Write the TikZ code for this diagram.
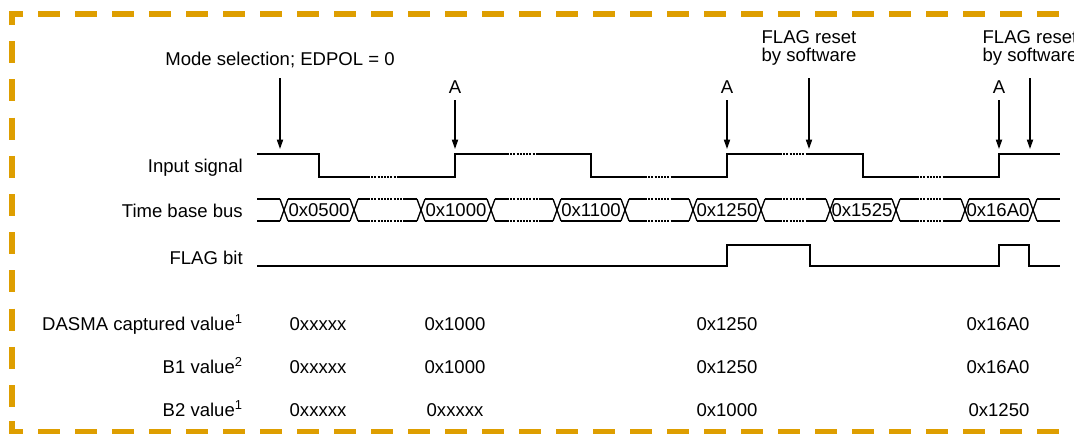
\documentclass[tikz,border=0pt]{standalone}
\usepackage{fontspec}
\setmainfont{Liberation Sans}
\usetikzlibrary{arrows.meta}
\definecolor{bordc}{RGB}{222,158,0}
\begin{document}
\begin{tikzpicture}[x=0.75pt,y=-0.75pt,
  txt/.style={font=\fontsize{13.9}{13.5}\selectfont, inner sep=0pt, text=black},
  sig/.style={line width=1.7pt, line join=miter, line cap=butt},
  dotseg/.style={line width=0.9pt, dash pattern=on 1.5pt off 0.9pt},
  xline/.style={line width=1pt},
  arr/.style={line width=1pt, -{Triangle[length=7pt,width=4.6pt]}},
  bordh/.style={draw=bordc, line width=4.3pt, dash pattern=on 16.5pt off 11.25pt},
  bordv/.style={draw=bordc, line width=4.3pt, dash pattern=on 16.5pt off 12.15pt}
]
\clip (0,0) rectangle (1074,433);
\fill[white] (0,0) rectangle (1074,433);

% dashed frame
\draw[bordh] (12,25) -- (12,14) -- (1100,14);
\draw[bordv] (23,14) -- (12,14) -- (12,432);
\draw[bordh] (12,421) -- (12,432) -- (1100,432);

% row labels
\node[txt, anchor=base east] (lin)  at (243,172) {Input signal};
\node[txt, anchor=base east] (lbus) at (243,217) {Time base bus};
\node[txt, anchor=base east] (lflg) at (243,264) {FLAG bit};
\node[txt, anchor=base east] (lda)  at (243,330) {DASMA captured value\textsuperscript{1}};
\node[txt, anchor=base east] (lb1)  at (243,373) {B1 value\textsuperscript{2}};
\node[txt, anchor=base east] (lb2)  at (243,416) {B2 value\textsuperscript{1}};

% top labels
\node[txt, anchor=base] (mode) at (280,65) {Mode selection; EDPOL = 0};
\node[txt, anchor=base] (a1) at (455,93) {A};
\node[txt, anchor=base] (a2) at (727,93) {A};
\node[txt, anchor=base] (a3) at (999,93) {A};
\node[txt, align=center, anchor=north] (f1) at (809,30) {FLAG reset\\by software};
\node[txt, align=center, anchor=north] (f2) at (1030,30) {FLAG reset\\by software};

% arrows
\coordinate (mS) at (280,78);   \coordinate (mT) at (280,149);
\coordinate (a1S) at (455,100); \coordinate (a1T) at (455,149);
\coordinate (a2S) at (727,100); \coordinate (a2T) at (727,149);
\coordinate (f1S) at (809,78);  \coordinate (f1T) at (809,149);
\coordinate (a3S) at (999,100); \coordinate (a3T) at (999,149);
\coordinate (f2S) at (1030,78); \coordinate (f2T) at (1030,149);
\draw[arr] (mS) -- (mT);
\draw[arr] (a1S) -- (a1T);
\draw[arr] (a2S) -- (a2T);
\draw[arr] (f1S) -- (f1T);
\draw[arr] (a3S) -- (a3T);
\draw[arr] (f2S) -- (f2T);

% input signal
\draw[sig] (257,154) -- (319,154) -- (319,177) -- (368,177);
\draw[dotseg] (368,177) -- (399,177);
\draw[sig] (399,177) -- (455,177) -- (455,154) -- (507,154);
\draw[dotseg] (507,154) -- (537,154);
\draw[sig] (537,154) -- (591,154) -- (591,177) -- (645,177);
\draw[dotseg] (645,177) -- (672,177);
\draw[sig] (672,177) -- (727,177) -- (727,154) -- (780,154);
\draw[dotseg] (780,154) -- (808,154);
\draw[sig] (808,154) -- (863,154) -- (863,177) -- (917,177);
\draw[dotseg] (917,177) -- (945,177);
\draw[sig] (945,177) -- (999,177) -- (999,154) -- (1060,154);

% time base bus
\foreach \t in {284,354,421,491,557,625,693,761,830,896,965,1033}{
  \draw[xline] (\t-4,199) -- (\t+4,221);
  \draw[xline] (\t-4,221) -- (\t+4,199);
}
\foreach \a/\b in {257/280, 288/350, 425/487, 561/621, 697/757, 834/892, 969/1029, 1037/1060}{
  \draw[sig] (\a,199) -- (\b,199);
  \draw[sig] (\a,221) -- (\b,221);
}
\foreach \a/\p/\q/\b in {358/368/403/417, 495/507/540/553, 629/645/673/689, 765/780/808/826, 900/917/945/961}{
  \draw[sig] (\a,199) -- (\p,199);  \draw[sig] (\q,199) -- (\b,199);
  \draw[sig] (\a,221) -- (\p,221);  \draw[sig] (\q,221) -- (\b,221);
  \draw[dotseg] (\p,199) -- (\q,199);
  \draw[dotseg] (\p,221) -- (\q,221);
}
\node[txt, anchor=base] (v0) at (319,216.6) {0x0500};
\node[txt, anchor=base] (v1) at (456,216.6) {0x1000};
\node[txt, anchor=base] (v2) at (591,216.6) {0x1100};
\node[txt, anchor=base] (v3) at (727,216.6) {0x1250};
\node[txt, anchor=base] (v4) at (862,216.6) {0x1525};
\node[txt, anchor=base] (v5) at (998,216.6) {0x16A0};

% FLAG bit
\draw[sig] (257,266) -- (727,266) -- (727,245) -- (810,245) -- (810,266)
  -- (999,266) -- (999,245) -- (1029,245) -- (1029,266) -- (1060,266);

% captured values
\node[txt, anchor=base] (d1) at (318,330) {0xxxxx};
\node[txt, anchor=base] (d2) at (455,330) {0x1000};
\node[txt, anchor=base] (d3) at (727,330) {0x1250};
\node[txt, anchor=base] (d4) at (998,330) {0x16A0};
\node[txt, anchor=base] (b11) at (318,373) {0xxxxx};
\node[txt, anchor=base] (b12) at (455,373) {0x1000};
\node[txt, anchor=base] (b13) at (727,373) {0x1250};
\node[txt, anchor=base] (b14) at (998,373) {0x16A0};
\node[txt, anchor=base] (b21) at (318,416) {0xxxxx};
\node[txt, anchor=base] (b22) at (455,416) {0xxxxx};
\node[txt, anchor=base] (b23) at (727,416) {0x1000};
\node[txt, anchor=base] (b24) at (999,416) {0x1250};
\end{tikzpicture}
\end{document}
